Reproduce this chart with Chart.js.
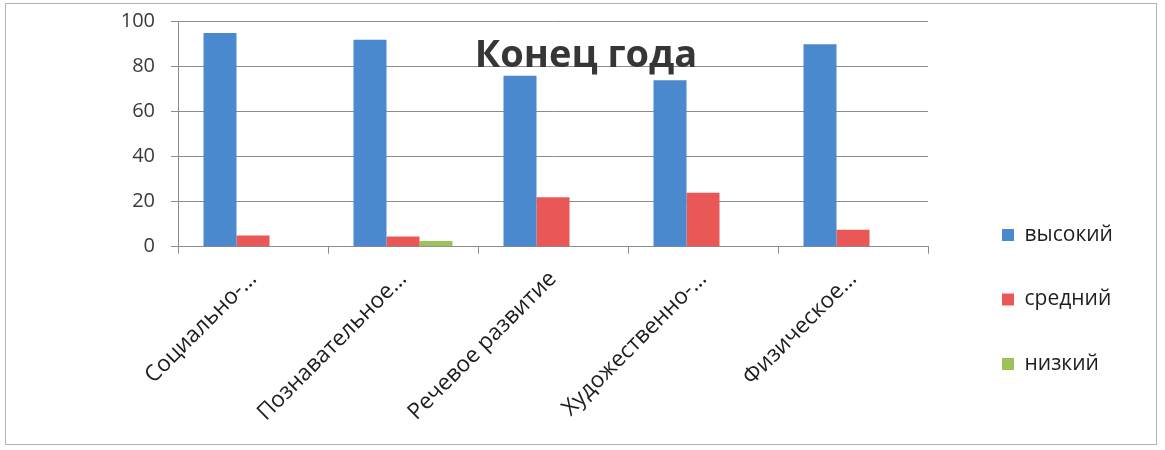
<!DOCTYPE html>
<html>
<head>
<meta charset="utf-8">
<script src="https://cdn.jsdelivr.net/npm/chart.js@4"></script>
<style>
  html, body { margin: 0; padding: 0; background: #ffffff; }
  #wrap { position: relative; width: 1165px; height: 450px; overflow: hidden; }
  #frame { position: absolute; left: 5px; top: 3px; width: 1150px; height: 440px; border: 1px solid #b4b4b4; pointer-events: none; }
  canvas { position: absolute; left: 0; top: 0; }
</style>
</head>
<body>
<div id="wrap">
  <canvas id="c" width="1165" height="450"></canvas>
  <div id="frame"></div>
</div>
<script>
const chartTitle = 'Конец года';
const categories = ['Социально-…', 'Познавательное…', 'Речевое развитие', 'Художественно-…', 'Физическое…'];
const seriesNames = ['высокий', 'средний', 'низкий'];
const highValues = [95, 92, 76, 74, 90];
const midValues = [5, 4.5, 22, 24, 7.5];
const lowValues = [0, 2.5, 0, 0, 0];
const yTicks = [0, 20, 40, 60, 80, 100];
const seriesColors = ['#4a89cd', '#ea5757', '#9cc35b'];

const FONT = '"Open Sans", "Noto Sans", sans-serif';
const LEGEND_SIZE = 21;
const LEGEND_PAD = 43.5;
const LEGEND_BOX = 12;
const LEGEND_LEFT = 958.5;

// width of the legend as Chart.js computes it, so that it can be placed exactly
const mctx = document.createElement('canvas').getContext('2d');
mctx.font = LEGEND_SIZE + 'px ' + FONT;
const maxText = Math.max(...seriesNames.map(s => mctx.measureText(s).width));
const legendW = LEGEND_PAD + LEGEND_BOX + LEGEND_SIZE / 2 + maxText + 10;
const padRight = Math.max(0, 1165 - LEGEND_LEFT - legendW);

const overlayTitle = {
  id: 'overlayTitle',
  afterDatasetsDraw(chart) {
    const ctx = chart.ctx;
    ctx.save();
    ctx.font = 'bold 38px ' + FONT;
    ctx.fillStyle = '#363636';
    ctx.textAlign = 'center';
    ctx.textBaseline = 'alphabetic';
    ctx.fillText(chartTitle, 586, 67);
    ctx.restore();
  }
};

new Chart(document.getElementById('c'), {
  type: 'bar',
  data: {
    labels: categories,
    datasets: [
      { label: seriesNames[0], data: highValues, backgroundColor: seriesColors[0] },
      { label: seriesNames[1], data: midValues, backgroundColor: seriesColors[1] },
      { label: seriesNames[2], data: lowValues, backgroundColor: seriesColors[2] }
    ]
  },
  options: {
    responsive: false,
    animation: false,
    layout: { padding: { top: 21.7, left: 0, right: padRight, bottom: 0 } },
    datasets: { bar: { categoryPercentage: 0.66, barPercentage: 1.0, borderWidth: 0 } },
    scales: {
      x: {
        grid: { display: true, drawOnChartArea: false, drawTicks: true, tickLength: 7, color: '#8c8c8c', offset: true },
        border: { display: true, color: '#8c8c8c', width: 1 },
        ticks: {
          maxRotation: 45, minRotation: 45, padding: 12, autoSkip: false,
          color: '#1e1e1e', font: { family: FONT, size: 22.5 }
        },
        afterFit(s) { s.height = 203.3; s.paddingLeft = 0; s.paddingRight = 0; }
      },
      y: {
        min: 0, max: 100,
        afterBuildTicks(s) { s.ticks = yTicks.map(v => ({ value: v })); },
        grid: { color: '#8c8c8c', lineWidth: 1, drawTicks: true, tickLength: 7 },
        border: { display: true, color: '#8c8c8c', width: 1 },
        ticks: { color: '#3a3a3a', padding: 16, font: { family: FONT, size: 20 } },
        afterFit(s) { s.width = 178; s.paddingTop = 0; s.paddingBottom = 0; }
      },
      yRightSpace: {
        position: 'right', display: true,
        grid: { display: false }, border: { display: false },
        ticks: { display: false },
        afterFit(s) { s.width = LEGEND_LEFT - 928; s.paddingTop = 0; s.paddingBottom = 0; }
      }
    },
    plugins: {
      title: { display: false },
      tooltip: { enabled: false },
      legend: {
        position: 'right', align: 'start',
        title: { display: true, text: ' ', font: { size: 10, lineHeight: 1 }, padding: { top: 149.3, bottom: 0 } },
        labels: {
          boxWidth: LEGEND_BOX, boxHeight: LEGEND_BOX, padding: LEGEND_PAD,
          color: '#1e1e1e', font: { family: FONT, size: LEGEND_SIZE }
        }
      }
    }
  },
  plugins: [overlayTitle]
});
</script>
</body>
</html>
